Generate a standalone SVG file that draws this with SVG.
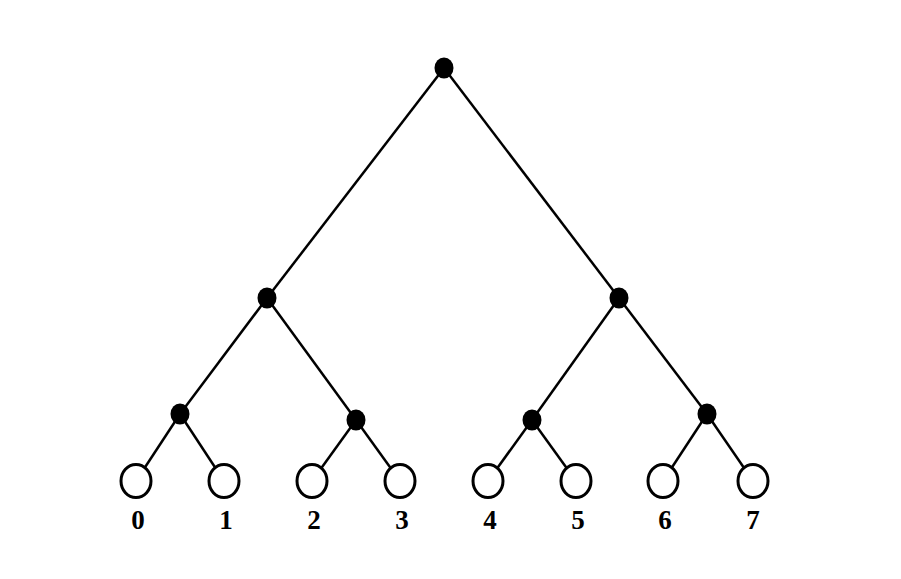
<svg xmlns="http://www.w3.org/2000/svg" width="901" height="579" viewBox="0 0 901 579">
<style>
.e{stroke:#000;stroke-width:2.5;fill:none}
.d{fill:#000}
.l{fill:#fff;stroke:#000;stroke-width:3}
.t{font-family:"Liberation Serif","DejaVu Serif",serif;font-weight:bold;font-size:27px;text-anchor:middle;fill:#000}
</style>
<rect width="901" height="579" fill="#fff"/>
<g id="connectors">
<line class="e" x1="444" y1="68" x2="267" y2="298"/>
<line class="e" x1="444" y1="68" x2="619" y2="298"/>
<line class="e" x1="267" y1="298" x2="180" y2="414"/>
<line class="e" x1="267" y1="298" x2="356" y2="420"/>
<line class="e" x1="619" y1="298" x2="532" y2="420"/>
<line class="e" x1="619" y1="298" x2="707" y2="414"/>
<line class="e" x1="180" y1="414" x2="136" y2="481"/>
<line class="e" x1="180" y1="414" x2="224" y2="481"/>
<line class="e" x1="356" y1="420" x2="312" y2="481"/>
<line class="e" x1="356" y1="420" x2="400" y2="481"/>
<line class="e" x1="532" y1="420" x2="488" y2="481"/>
<line class="e" x1="532" y1="420" x2="576" y2="481"/>
<line class="e" x1="707" y1="414" x2="663" y2="481"/>
<line class="e" x1="707" y1="414" x2="753" y2="481"/>
</g>
<g id="root"><ellipse class="d" cx="444" cy="68" rx="9.5" ry="10.5"/></g>
<g id="n_l"><ellipse class="d" cx="267" cy="298" rx="9.5" ry="10.5"/></g>
<g id="n_r"><ellipse class="d" cx="619" cy="298" rx="9.5" ry="10.5"/></g>
<g id="n_ll"><ellipse class="d" cx="180" cy="414" rx="9.5" ry="10.5"/></g>
<g id="n_lr"><ellipse class="d" cx="356" cy="420" rx="9.5" ry="10.5"/></g>
<g id="n_rl"><ellipse class="d" cx="532" cy="420" rx="9.5" ry="10.5"/></g>
<g id="n_rr"><ellipse class="d" cx="707" cy="414" rx="9.5" ry="10.5"/></g>
<g id="leaf0"><ellipse class="l" cx="136" cy="481" rx="15" ry="16.5"/><text class="t" x="138" y="529">0</text></g>
<g id="leaf1"><ellipse class="l" cx="224" cy="481" rx="15" ry="16.5"/><text class="t" x="226" y="529">1</text></g>
<g id="leaf2"><ellipse class="l" cx="312" cy="481" rx="15" ry="16.5"/><text class="t" x="314" y="529">2</text></g>
<g id="leaf3"><ellipse class="l" cx="400" cy="481" rx="15" ry="16.5"/><text class="t" x="402" y="529">3</text></g>
<g id="leaf4"><ellipse class="l" cx="488" cy="481" rx="15" ry="16.5"/><text class="t" x="490" y="529">4</text></g>
<g id="leaf5"><ellipse class="l" cx="576" cy="481" rx="15" ry="16.5"/><text class="t" x="578" y="529">5</text></g>
<g id="leaf6"><ellipse class="l" cx="663" cy="481" rx="15" ry="16.5"/><text class="t" x="665" y="529">6</text></g>
<g id="leaf7"><ellipse class="l" cx="753" cy="481" rx="15" ry="16.5"/><text class="t" x="753" y="529">7</text></g>
</svg>
